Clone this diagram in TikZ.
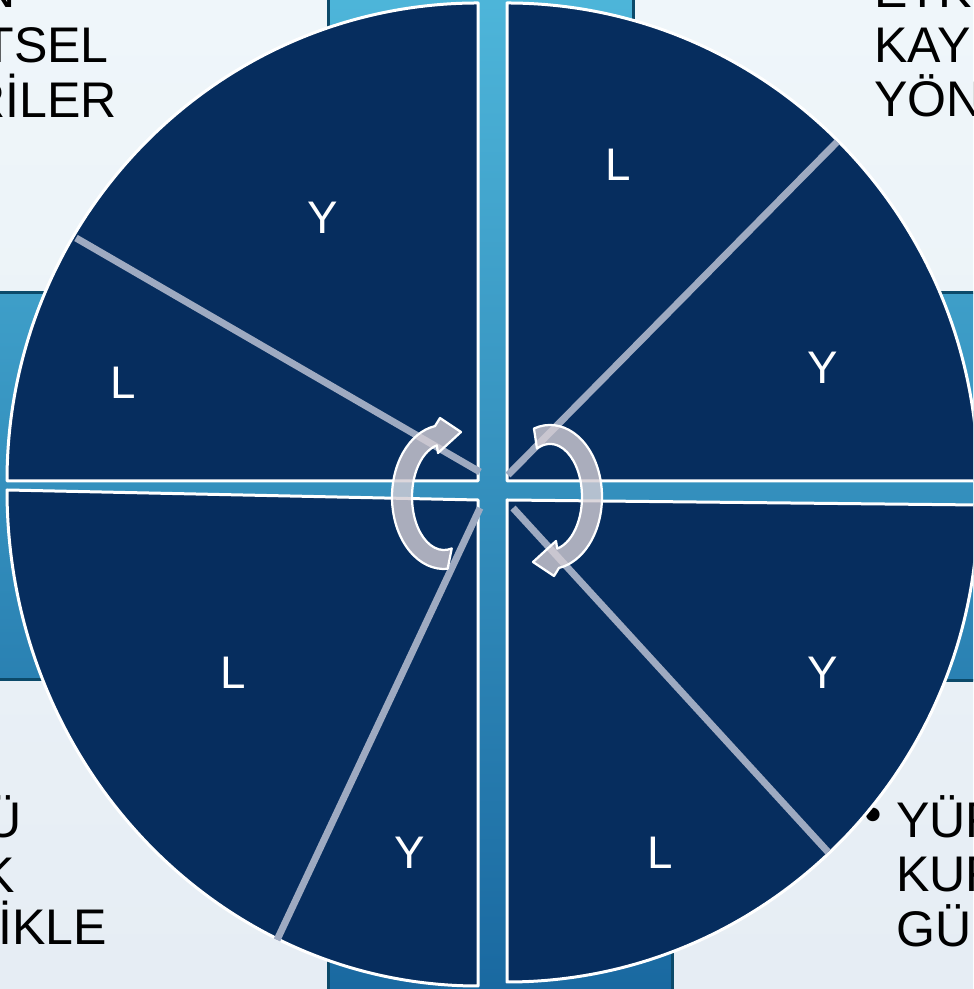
\documentclass[tikz,border=0pt]{standalone}
\usepackage{fontspec}
\setmainfont{Liberation Sans}
\usepackage{tikz}
\usetikzlibrary{positioning}
\definecolor{bgtop}{HTML}{EFF6FA}
\definecolor{bgbot}{HTML}{E6EDF4}
\definecolor{bartop}{HTML}{4EB6DA}
\definecolor{barmid}{HTML}{3391BF}
\definecolor{barbot}{HTML}{1968A0}
\definecolor{baredge}{HTML}{0C4A6A}
\definecolor{quadnavy}{HTML}{062D5E}
\definecolor{divline}{HTML}{9EAAC1}
\definecolor{cycgray}{HTML}{D4CDD4}

\begin{document}
\begin{tikzpicture}[x=0.02cm, y=0.02cm,
    quad/.style={fill=quadnavy, draw=white, line width=0.06cm, line join=round},
    divider/.style={draw=divline, line width=0.14cm},
    cyc/.style={fill=cycgray, fill opacity=0.8, draw=white, line width=0.045cm, line join=round},
    lbl/.style={text=white, inner sep=0pt, font=\fontsize{26}{30}\selectfont},
    txt/.style={text=black, inner sep=0pt, font=\fontsize{28.5}{34}\selectfont}]
    \useasboundingbox (0,0) rectangle (973,989);
    \clip (0,0) rectangle (973,989);
    \shade[top color=bgtop, bottom color=bgbot] (0,0) rectangle (973,989);
    \shade[top color=bartop, middle color=barmid, bottom color=barbot]
        (328,1000) -- (633,1000) -- (633,696) -- (985,696) -- (985,308) -- (672,308) -- (672,-12)
        -- (328,-12) -- (328,309) -- (-12,309) -- (-12,696) -- (328,696) -- cycle;
    \draw[baredge, line width=0.06cm]
        (328,1000) -- (633,1000) -- (633,696) -- (985,696) -- (985,308) -- (672,308) -- (672,-12)
        -- (328,-12) -- (328,309) -- (-12,309) -- (-12,696) -- (328,696) -- cycle;

    \node[txt, anchor=base east] (tlA) at (16,981) {N};
    \node[txt, anchor=base east] (tlB) at (109,926) {TSEL};
    \node[txt, anchor=base east] (tlC) at (117,871) {RİLER};
    \node[txt, anchor=base west] (trA) at (874,981) {ETKİ};
    \node[txt, anchor=base west] (trB) at (874,926) {KAYN};
    \node[txt, anchor=base west] (trC) at (874,872) {YÖN};
    \node[txt, anchor=base east] (blA) at (22,151) {Ü};
    \node[txt, anchor=base east] (blB) at (15,96) {K};
    \node[txt, anchor=base east] (blC) at (107,44) {LİKLE};
    \node[txt] (brDot) at (873,169) {•};
    \node[txt, anchor=base west] (brA) at (896,151) {YÜR};
    \node[txt, anchor=base west] (brB) at (896,97) {KUR};
    \node[txt, anchor=base west] (brC) at (896,42) {GÜ};

    \filldraw[quad] (478,508) -- (7,508) arc[start angle=180, end angle=90, x radius=471, y radius=478] -- cycle;
    \filldraw[quad] (507,508) -- (507,986) arc[start angle=90, end angle=0, x radius=471, y radius=478] -- cycle;
    \filldraw[quad] (507,489) -- (978,484) arc[start angle=0, end angle=-90, x radius=471, y radius=477] -- cycle;
    \filldraw[quad] (478,489) -- (7,499) arc[start angle=180, end angle=270, x radius=471, y radius=496] -- cycle;

    \foreach \a/\b/\c/\d [count=\k] in {480/517/76/751, 508/514/837/847, 513/481/828/137, 480/481/277/49} {
        \coordinate (in\k) at (\a,\b);
        \coordinate (out\k) at (\c,\d);
        \draw[divider] (in\k) -- (out\k);
    }

    \foreach \r/\ta/\tb in {0/274/284, 180/288/294} {
        \begin{scope}[rotate around={\r:(497,492)}]
            \filldraw[cyc] (444,492) ++(\ta:52 and 72)
                arc[start angle=\ta, end angle=100, x radius=52, y radius=72]
                -- (440,571) -- (461,557) -- (438,536) -- (436.8,543.6)
                arc[start angle=103, end angle=\tb, x radius=32, y radius=53] -- cycle;
        \end{scope}
    }

    \foreach \x/\y/\t in {323/771/Y, 123/606/L, 618/824/L, 823/621/Y, 823/316/Y, 660/136/L, 233/316/L, 410/136/Y}
        \node[lbl] (lab-\x-\y) at (\x,\y) {\t};
\end{tikzpicture}
\end{document}
